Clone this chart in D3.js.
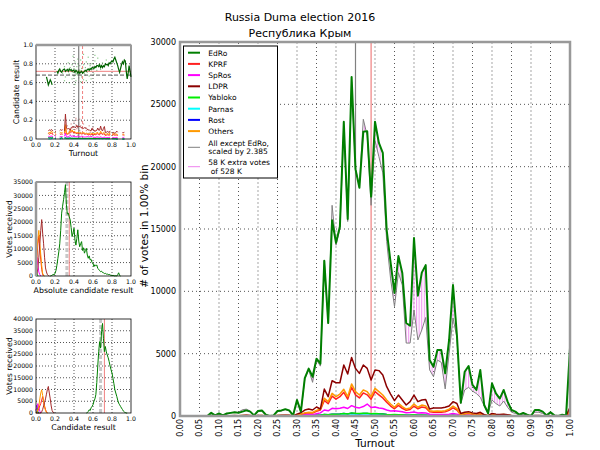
<!DOCTYPE html>
<html>
<head>
<meta charset="utf-8">
<script src="https://cdn.jsdelivr.net/npm/d3@7"></script>
<style>
body { margin: 0; background: #fff; }
text { font-family: "DejaVu Sans", sans-serif; }
</style>
</head>
<body>
<div id="grafico"></div>
<script>
/////////// DATA /////////
// 1% turnout bins, 0.00 .. 1.00
var turnout = d3.range(0, 101).map(function(i) { return i / 100; });

var edro = [
  0,0,0,0,0,0,0,0,250,50,
  200,50,200,250,300,250,350,450,350,50,
  400,450,100,0,50,400,450,550,450,50,
  1280,350,3040,3800,3150,4600,4200,12450,7460,15700,
  13900,15200,23600,15800,27200,19800,18300,22800,22850,17600,
  23600,21900,21100,14900,12300,9870,12830,11470,7460,7240,
  14280,9650,11500,12100,4490,3950,5290,5290,3420,6100,
  10500,6500,1070,3550,4010,2490,2090,3690,880,220,
  2620,1820,1400,2090,1150,480,350,100,240,100,
  0,480,480,350,50,300,50,0,100,50,
  5450];
var allExcept = [
  0,0,0,0,0,0,0,0,200,50,
  150,50,150,250,300,300,500,550,400,50,
  350,400,100,0,50,350,400,500,400,50,
  1200,300,3000,3700,2700,4500,4000,12500,7400,16900,
  13700,15000,23200,15600,26800,19800,18500,23800,22500,16900,
  22100,20800,19500,14000,11000,8770,11500,10500,5850,5850,
  8500,6100,6900,7900,3700,3150,4490,4300,2170,5000,
  7860,6300,1000,2090,2300,2000,1800,1500,800,200,
  1280,1000,800,1200,700,300,200,100,150,50,
  0,300,300,200,50,200,50,0,80,50,
  4500];
var kprf = [
  0,0,0,0,0,0,0,0,10,0,
  10,0,10,20,20,20,30,40,20,0,
  20,30,10,0,10,30,30,40,30,10,
  100,130,220,260,240,380,480,1250,980,1600,
  1350,1550,1900,1350,2300,1700,1450,1850,1700,1350,
  1950,1700,1450,1100,800,580,850,620,460,520,
  800,580,720,660,340,300,320,300,340,450,
  650,480,80,160,200,140,120,160,60,15,
  120,100,80,100,60,25,15,5,15,5,
  0,25,25,15,0,15,0,0,5,5,
  350];
var spros = [
  0,0,0,0,0,0,0,0,5,0,
  5,0,5,10,10,10,15,20,10,0,
  10,15,5,0,5,15,15,20,15,5,
  50,60,100,120,110,180,250,480,420,620,
  580,620,700,600,830,700,650,760,960,680,
  720,640,600,480,400,420,380,340,260,280,
  320,240,260,250,140,120,130,120,120,150,
  200,150,30,60,70,50,40,60,20,5,
  40,30,25,30,20,10,5,0,5,0,
  0,10,10,5,0,5,0,0,0,0,
  150];
var ldpr = [
  0,0,0,0,0,0,0,0,30,0,
  20,0,20,30,40,30,50,60,40,0,
  40,50,10,0,10,50,60,70,60,10,
  150,260,480,560,480,720,560,2160,1550,2830,
  2670,2670,4090,3370,4700,3820,3420,4090,3820,2890,
  3690,3640,3290,2350,1760,1230,1680,1280,880,1150,
  1680,1150,1280,1330,560,640,640,640,700,800,
  1150,1000,200,300,350,250,200,300,100,30,
  200,150,120,150,100,50,30,10,20,10,
  0,40,40,30,0,30,0,0,10,10,
  700];
var yabloko = [
  0,0,0,0,0,0,0,0,0,0,
  0,0,0,5,5,5,5,10,5,0,
  5,5,0,0,0,5,5,10,5,0,
  20,10,30,40,30,60,60,120,100,150,
  150,160,200,160,250,220,200,220,230,180,
  200,180,170,130,110,120,110,100,70,80,
  100,70,80,70,40,40,40,40,40,50,
  60,50,10,20,20,15,10,20,5,0,
  10,10,5,10,5,0,0,0,0,0,
  0,0,0,0,0,0,0,0,0,0,
  30];
var parnas = [
  0,0,0,0,0,0,0,0,0,0,
  0,0,0,0,0,0,0,5,0,0,
  0,0,0,0,0,0,0,5,0,0,
  10,5,15,20,15,25,30,50,40,60,
  60,60,80,60,90,80,70,80,80,60,
  80,70,60,50,40,40,40,35,25,30,
  40,25,30,25,15,15,15,15,15,20,
  25,20,5,10,10,5,5,10,0,0,
  5,5,0,0,0,0,0,0,0,0,
  0,0,0,0,0,0,0,0,0,0,
  10];
var rost = [
  0,0,0,0,0,0,0,0,0,0,
  0,0,0,5,5,5,5,10,5,0,
  5,5,0,0,0,5,5,10,5,0,
  20,15,40,50,40,70,70,130,100,150,
  150,160,200,160,220,190,170,200,200,150,
  190,170,160,120,100,80,100,80,60,60,
  90,60,70,70,35,30,35,30,30,40,
  60,40,10,20,20,15,10,20,5,0,
  15,10,10,10,5,0,0,0,0,0,
  0,0,0,0,0,0,0,0,0,0,
  50];
var others = [
  0,0,0,0,0,0,0,0,20,0,
  20,0,20,20,30,20,40,50,30,0,
  30,40,10,0,10,40,40,50,40,10,
  120,150,250,300,280,450,560,1420,1150,1820,
  1550,1760,2140,1550,2570,1950,1680,2090,1950,1550,
  2220,1950,1680,1280,960,700,1020,750,560,640,
  960,700,880,800,420,380,400,380,420,550,
  800,600,100,200,250,180,150,200,80,20,
  150,120,100,120,80,30,20,10,20,10,
  0,30,30,20,0,20,0,0,10,10,
  400];

var partyNames = ["EdRo","KPRF","SpRos","LDPR","Yabloko","Parnas","Rost","Others"];
var partyColors = ["#007f00","#ff2020","#ff00ff","#8b0000","#00ee00","#00ffff","#0000ff","#ff9900"];
var partySeries = [edro, kprf, spros, ldpr, yabloko, parnas, rost, others];
var scaleNote = ["All except EdRo,", "scaled by 2.385"];
var extraNote = ["58 K extra votes", " of 528 K"];
var titleLines = ["Russia Duma election 2016", "Республика Крым"];
var meanTurnout = 0.45, edroTurnout = 0.49;

// top-left panel: EdRo share per turnout bin (null = gap)
var shareTurnout = d3.range(11, 101).map(function(i) { return i / 100; });
var shareEdro = [
  0.66,0.62,0.575,0.60,0.63,0.61,0.575,null,null,null,null,
  0.72,0.70,0.73,0.745,0.72,0.71,0.73,0.74,0.745,0.72,
  0.73,0.74,0.72,0.745,0.73,0.74,0.72,0.73,0.73,0.71,
  0.73,0.72,0.70,0.72,0.70,0.71,0.72,0.70,0.71,0.72,
  0.73,0.72,0.74,0.745,0.73,0.75,0.74,0.76,0.76,0.75,
  0.77,0.76,0.78,0.78,0.77,0.79,0.76,0.78,0.76,0.78,
  0.77,0.80,0.79,0.795,0.78,0.81,0.80,0.82,0.83,0.82,
  0.85,0.87,0.84,0.81,0.78,0.74,0.71,0.75,0.79,0.82,
  0.80,0.84,0.83,0.72,0.64,0.70,0.78,0.72,0.66];
// precinct cloud (EdRo)
var cloudT = [0.28,0.30,0.31,0.33,0.34,0.35,0.36,0.37,0.38,0.38,0.39,0.40,0.40,0.41,0.42,0.42,0.43,0.43,0.44,0.44,
  0.45,0.45,0.45,0.46,0.46,0.47,0.47,0.48,0.48,0.49,0.50,0.50,0.51,0.52,0.52,0.53,0.54,0.55,0.55,0.56,
  0.57,0.58,0.59,0.60,0.61,0.62,0.63,0.64,0.65,0.66,0.68,0.70,0.72,0.74,0.76,0.35,0.41,0.47,0.53,0.44,
  0.39,0.58,0.50,0.30,0.62,0.43,0.46,0.49,0.51,0.56];
var cloudV = [0.70,0.77,0.66,0.74,0.81,0.69,0.76,0.72,0.64,0.79,0.71,0.75,0.67,0.82,0.70,0.62,0.77,0.73,0.68,0.80,
  0.71,0.74,0.65,0.78,0.69,0.72,0.84,0.66,0.75,0.70,0.79,0.63,0.73,0.76,0.68,0.82,0.71,0.74,0.87,0.67,
  0.78,0.72,0.80,0.75,0.69,0.83,0.77,0.73,0.86,0.79,0.74,0.81,0.77,0.84,0.79,0.60,0.58,0.61,0.62,0.85,
  0.88,0.64,0.90,0.62,0.89,0.69,0.73,0.76,0.70,0.80];
// precinct cloud (other parties)
var lowCloudT = [0.30,0.33,0.35,0.37,0.38,0.40,0.41,0.42,0.43,0.44,0.45,0.46,0.47,0.48,0.49,0.50,0.52,0.54,0.56,0.58,
  0.60,0.62,0.36,0.40,0.44,0.47,0.51,0.55,0.42,0.46,0.39,0.43,0.45,0.48,0.53,0.57];
var lowCloudV = [0.10,0.14,0.08,0.16,0.12,0.18,0.10,0.15,0.20,0.13,0.17,0.09,0.14,0.19,0.11,0.16,0.12,0.10,0.14,0.09,
  0.12,0.08,0.05,0.06,0.04,0.07,0.05,0.06,0.22,0.21,0.13,0.11,0.15,0.12,0.09,0.07];

// middle-left panel: votes vs absolute result
var absGreenX = d3.range(15, 90).map(function(i) { return i / 100; });
var absGreen = [0,100,300,600,400,1000,2000,4000,6500,9000,
  12000,17000,23400,26000,28400,31000,34000,26500,23000,23400,
  22000,20900,18000,14700,16000,17800,13500,11500,14000,17200,
  13000,10900,12000,12800,9500,10500,8500,9500,10300,7800,
  6600,7500,6000,6200,5000,4700,3500,4200,3800,4100,
  2800,2500,2000,1600,1800,1300,1200,900,1000,700,
  750,500,600,400,200,300,100,200,0,100,
  0,500,1200,200,0];
var absLow = {
  ldpr:   [0,500,3000,7000,12000,17000,21000,16000,12000,7000,3000,1500,500,200,0],
  others: [0,9000,14000,17000,12000,8000,4000,1000,300,0],
  kprf:   [0,7000,12000,15000,10000,6000,2500,500,0],
  spros:  [2000,7000,4000,1500,500,0],
  yabloko:[3000,1000,0],
  parnas: [1000,0],
  rost:   [2500,500,0]
};
var absMean = 0.325, absEdro = 0.35;

// bottom-left panel: votes vs candidate result
var relGreenX = d3.range(53, 97).map(function(i) { return i / 100; });
var relGreen = [0,200,600,1400,1000,2200,2800,3500,5000,6000,
  7800,13000,20000,26100,30400,27600,34600,38100,31800,26100,
  28300,26000,24700,23500,21900,20000,18400,17000,14800,12500,
  9900,8500,7100,5500,4200,3500,2800,2100,1500,800,
  400,200,0,0];
var relLow = {
  ldpr:   [0,0,0,0,0,0,500,1500,3000,4500,6000,8000,10000,11300,8500,6000,3000,1000,300,0],
  others: [0,500,1500,3000,6000,8500,9900,7500,5000,2500,1000,300,0],
  kprf:   [0,500,1000,2000,3000,4000,5500,7000,5000,3000,1500,500,0],
  spros:  [1000,2500,4000,2500,800,0],
  yabloko:[1500,2000,200,0],
  parnas: [1000,300,0],
  rost:   [3000,3000,500,0]
};
var relMean = 0.68, relEdro = 0.72;

/////////// SVG /////////
var svg = d3.select("#grafico").append("svg")
  .attr("width", 600)
  .attr("height", 450);

var defs = svg.append("defs");
defs.append("pattern")
  .attr("id", "rayas")
  .attr("patternUnits", "userSpaceOnUse")
  .attr("width", 2.6).attr("height", 10)
  .append("line")
  .attr("x1", 0.6).attr("x2", 0.6).attr("y1", 0).attr("y2", 10)
  .attr("stroke", "violet").attr("stroke-width", 0.9);

/////////// TITLE /////////
svg.selectAll(".titulo").data(titleLines).enter().append("text")
  .attr("class", "titulo")
  .attr("x", 300)
  .attr("y", function(d, i) { return 20.5 + i * 16; })
  .attr("text-anchor", "middle")
  .attr("font-size", "11px")
  .text(function(d) { return d; });

/////////// MAIN CHART /////////
var x = d3.scaleLinear().domain([0, 1]).range([180, 570]);
var y = d3.scaleLinear().domain([0, 30000]).range([416, 42]);

var xTicks = d3.range(0, 21).map(function(i) { return i / 20; });

// grid
svg.append("g").selectAll("line").data(xTicks.slice(1, 20)).enter().append("line")
  .attr("x1", function(d) { return x(d); }).attr("x2", function(d) { return x(d); })
  .attr("y1", y(0)).attr("y2", y(30000))
  .attr("stroke", function(d, i) { return i % 2 === 1 ? "#c8c8c8" : "#555"; })
  .attr("stroke-width", function(d, i) { return i % 2 === 1 ? 1.6 : 1; })
  .attr("stroke-dasharray", function(d, i) { return i % 2 === 1 ? "2,2" : "1,3"; });

svg.append("g").selectAll("line").data([5000, 10000, 15000, 20000, 25000]).enter().append("line")
  .attr("x1", x(0)).attr("x2", x(1))
  .attr("y1", function(d) { return y(d); }).attr("y2", function(d) { return y(d); })
  .attr("stroke", "#555").attr("stroke-dasharray", "1,3");

// y tick labels
svg.append("g").selectAll("text").data(d3.range(0, 30001, 5000)).enter().append("text")
  .attr("x", 176)
  .attr("y", function(d) { return y(d) + 3; })
  .attr("text-anchor", "end")
  .attr("font-size", "8px")
  .text(function(d) { return d; });

// x tick labels
svg.append("g").selectAll("text").data(xTicks).enter().append("text")
  .attr("transform", function(d) { return "translate(" + x(d) + ",419) rotate(-90)"; })
  .attr("dy", "0.35em")
  .attr("text-anchor", "end")
  .attr("font-size", "8px")
  .text(d3.format(".2f"));

// axis titles
svg.append("text")
  .attr("x", 375).attr("y", 447)
  .attr("text-anchor", "middle")
  .attr("font-size", "10.5px")
  .text("Turnout");

svg.append("text")
  .attr("transform", "translate(144," + 226 + ") rotate(-90)")
  .attr("dy", "0.35em")
  .attr("text-anchor", "middle")
  .attr("font-size", "10.5px")
  .text("# of votes in 1.00% bin");

// extra votes hatch between scaled rest and EdRo
svg.append("path")
  .datum(turnout)
  .attr("fill", "url(#rayas)")
  .attr("d", d3.area()
    .x(function(d) { return x(d); })
    .y0(function(d, i) { return y(allExcept[i]); })
    .y1(function(d, i) { return y(edro[i]); }));

// reference verticals
svg.append("line")
  .attr("x1", x(meanTurnout)).attr("x2", x(meanTurnout))
  .attr("y1", y(0)).attr("y2", y(30000))
  .attr("stroke", "#808080").attr("stroke-width", 1.2);
svg.append("line")
  .attr("x1", x(edroTurnout)).attr("x2", x(edroTurnout))
  .attr("y1", y(0)).attr("y2", y(30000))
  .attr("stroke", "#f08080").attr("stroke-width", 1.2);

var linea = function(serie) {
  return d3.line()
    .x(function(d) { return x(d); })
    .y(function(d, i) { return y(serie[i]); });
};

svg.append("path")
  .datum(turnout)
  .attr("fill", "none")
  .attr("stroke", "#808080")
  .attr("stroke-width", 1)
  .attr("d", linea(allExcept));

// small parties first, EdRo on top
[6, 5, 4, 2, 1, 7, 3, 0].forEach(function(k) {
  svg.append("path")
    .datum(turnout)
    .attr("fill", "none")
    .attr("stroke", partyColors[k])
    .attr("stroke-width", k === 0 ? 2 : 1.5)
    .attr("stroke-linejoin", "round")
    .attr("d", linea(partySeries[k]));
});

// frame
svg.append("rect")
  .attr("x", x(0)).attr("y", y(30000))
  .attr("width", x(1) - x(0)).attr("height", y(0) - y(30000))
  .attr("fill", "none").attr("stroke", "#999").attr("stroke-width", 2.5);

/////////// LEGEND /////////
var leg = svg.append("g").attr("transform", "translate(183.5,46)");
leg.append("rect")
  .attr("width", 94).attr("height", 132)
  .attr("fill", "#fff").attr("stroke", "#000").attr("stroke-width", 1);

partyNames.forEach(function(n, i) {
  var cy = 6.7 + i * 11.2;
  leg.append("line")
    .attr("x1", 4.5).attr("x2", 16.5).attr("y1", cy).attr("y2", cy)
    .attr("stroke", partyColors[i]).attr("stroke-width", 2);
  leg.append("text")
    .attr("x", 24.8).attr("y", cy + 2.8)
    .attr("font-size", "7.5px")
    .text(n);
});
[[scaleNote, "#808080", 101.3], [extraNote, "violet", 120.7]].forEach(function(e) {
  leg.append("line")
    .attr("x1", 4.5).attr("x2", 16.5).attr("y1", e[2]).attr("y2", e[2])
    .attr("stroke", e[1]).attr("stroke-width", 1);
  e[0].forEach(function(t, j) {
    leg.append("text")
      .attr("x", 24.8).attr("y", e[2] - 1.6 + j * 8.4)
      .attr("font-size", "7.5px")
      .attr("xml:space", "preserve")
      .text(t);
  });
});

/////////// SMALL PANELS /////////
function panel(top, yMax, yStep, xLabel, yLabel, yFmt, labelX) {
  var px = d3.scaleLinear().domain([0, 1]).range([36, 131]);
  var py = d3.scaleLinear().domain([0, yMax]).range([top + 94, top]);
  var g = svg.append("g");
  var xs = [0, 0.2, 0.4, 0.6, 0.8, 1.0];
  var ys = d3.range(0, yMax + yStep / 2, yStep);

  g.selectAll(".gx").data(xs.slice(1, 5)).enter().append("line")
    .attr("x1", function(d) { return px(d); }).attr("x2", function(d) { return px(d); })
    .attr("y1", py(0)).attr("y2", py(yMax))
    .attr("stroke", "#555").attr("stroke-dasharray", "1,2");
  g.selectAll(".gy").data(ys.slice(1, ys.length - 1)).enter().append("line")
    .attr("x1", px(0)).attr("x2", px(1))
    .attr("y1", function(d) { return py(d); }).attr("y2", function(d) { return py(d); })
    .attr("stroke", "#555").attr("stroke-dasharray", "1,2");

  g.selectAll(".tx").data(xs).enter().append("text")
    .attr("x", function(d) { return px(d); })
    .attr("y", py(0) + 8)
    .attr("text-anchor", "middle")
    .attr("font-size", "6.2px")
    .text(d3.format(".1f"));
  g.selectAll(".ty").data(ys).enter().append("text")
    .attr("x", 33)
    .attr("y", function(d) { return py(d) + 2.2; })
    .attr("text-anchor", "end")
    .attr("font-size", "6.2px")
    .text(yFmt);

  g.append("text")
    .attr("x", 83.5).attr("y", py(0) + 17)
    .attr("text-anchor", "middle")
    .attr("font-size", "7.8px")
    .text(xLabel);
  g.append("text")
    .attr("transform", "translate(" + labelX + "," + (top + 47) + ") rotate(-90)")
    .attr("dy", "0.35em")
    .attr("text-anchor", "middle")
    .attr("font-size", "7.8px")
    .text(yLabel);

  return { g: g, x: px, y: py };
}

function frame(p, yMax) {
  p.g.append("rect")
    .attr("x", p.x(0)).attr("y", p.y(yMax))
    .attr("width", p.x(1) - p.x(0)).attr("height", p.y(0) - p.y(yMax))
    .attr("fill", "none").attr("stroke", "#000").attr("stroke-width", 0.8);
}

function vline(p, v, yMax, color, width, dash) {
  p.g.append("line")
    .attr("x1", p.x(v)).attr("x2", p.x(v))
    .attr("y1", p.y(0)).attr("y2", p.y(yMax))
    .attr("stroke", color).attr("stroke-width", width)
    .attr("stroke-dasharray", dash);
}

function lowLines(p, data) {
  var keys = ["rost", "parnas", "yabloko", "spros", "kprf", "others", "ldpr"];
  var cols = { ldpr: "#a52a2a", others: "#ff9900", kprf: "#ff2020", spros: "#ff00ff",
               yabloko: "#00ee00", parnas: "#00ffff", rost: "#0000ff" };
  keys.forEach(function(k) {
    p.g.append("path")
      .datum(data[k])
      .attr("fill", "none")
      .attr("stroke", cols[k])
      .attr("stroke-width", 1)
      .attr("d", d3.line()
        .x(function(d, i) { return p.x(i / 100); })
        .y(function(d) { return p.y(d); }));
  });
}

// --- panel 1: result vs turnout
var p1 = panel(45, 1, 0.2, "Turnout", "Candidate result", d3.format(".1f"), 16);

p1.g.selectAll(".nube").data(cloudT).enter().append("rect")
  .attr("x", function(d) { return p1.x(d) - 0.6; })
  .attr("y", function(d, i) { return p1.y(cloudV[i]) - 0.6; })
  .attr("width", 1.2).attr("height", 1.2)
  .attr("fill", "#2e9a2e").attr("opacity", 0.55);
p1.g.selectAll(".nubeBaja").data(lowCloudT).enter().append("rect")
  .attr("x", function(d) { return p1.x(d) - 0.6; })
  .attr("y", function(d, i) { return p1.y(lowCloudV[i]) - 0.6; })
  .attr("width", 1.2).attr("height", 1.2)
  .attr("fill", "#b03030").attr("opacity", 0.5);

vline(p1, meanTurnout, 1, "#666", 1, null);
vline(p1, edroTurnout, 1, "#f08080", 1, "3,2");
p1.g.append("line")
  .attr("x1", p1.x(0)).attr("x2", p1.x(1))
  .attr("y1", p1.y(0.72)).attr("y2", p1.y(0.72))
  .attr("stroke", "#f08080").attr("stroke-width", 1);
p1.g.append("line")
  .attr("x1", p1.x(0)).attr("x2", p1.x(1))
  .attr("y1", p1.y(0.68)).attr("y2", p1.y(0.68))
  .attr("stroke", "#555").attr("stroke-width", 1).attr("stroke-dasharray", "4,2");

// other parties' share per bin
[6, 5, 4, 2, 1, 7, 3].forEach(function(k) {
  p1.g.append("path")
    .datum(turnout)
    .attr("fill", "none")
    .attr("stroke", k === 3 ? "#a52a2a" : partyColors[k])
    .attr("stroke-width", 1)
    .attr("d", d3.line()
      .defined(function(d, i) {
        var tot = partySeries.reduce(function(s, a) { return s + a[i]; }, 0);
        return tot >= 300;
      })
      .x(function(d) { return p1.x(d); })
      .y(function(d, i) {
        var tot = partySeries.reduce(function(s, a) { return s + a[i]; }, 0);
        return p1.y(partySeries[k][i] / tot);
      }));
});

p1.g.append("path")
  .datum(shareTurnout)
  .attr("fill", "none")
  .attr("stroke", "#006400")
  .attr("stroke-width", 1.2)
  .attr("d", d3.line()
    .defined(function(d, i) { return shareEdro[i] !== null; })
    .x(function(d) { return p1.x(d); })
    .y(function(d, i) { return p1.y(shareEdro[i]); }));
frame(p1, 1);
p1.g.append("line")
  .attr("x1", p1.x(0)).attr("x2", p1.x(1))
  .attr("y1", p1.y(1)).attr("y2", p1.y(1))
  .attr("stroke", "#999").attr("stroke-width", 2.5);

// --- panel 2: votes vs absolute result
var p2 = panel(182, 35000, 5000, "Absolute candidate result", "Votes received", d3.format("d"), 9);
vline(p2, absMean, 35000, "#c8c8c8", 3, "4,2");
vline(p2, absEdro, 35000, "#f08080", 1, null);
lowLines(p2, absLow);
p2.g.append("path")
  .datum(absGreenX)
  .attr("fill", "none")
  .attr("stroke", "#007f00")
  .attr("stroke-width", 1)
  .attr("d", d3.line()
    .x(function(d) { return p2.x(d); })
    .y(function(d, i) { return p2.y(absGreen[i]); }));
frame(p2, 35000);
p2.g.append("line")
  .attr("x1", p2.x(0)).attr("x2", p2.x(0))
  .attr("y1", p2.y(0)).attr("y2", p2.y(35000))
  .attr("stroke", "#999").attr("stroke-width", 2.5);

// --- panel 3: votes vs candidate result
var p3 = panel(319, 40000, 5000, "Candidate result", "Votes received", d3.format("d"), 9);
vline(p3, relMean, 40000, "#c8c8c8", 3, "4,2");
vline(p3, relEdro, 40000, "#f08080", 1, null);
lowLines(p3, relLow);
p3.g.append("path")
  .datum(relGreenX)
  .attr("fill", "none")
  .attr("stroke", "#007f00")
  .attr("stroke-width", 1)
  .attr("d", d3.line()
    .x(function(d) { return p3.x(d); })
    .y(function(d, i) { return p3.y(relGreen[i]); }));
frame(p3, 40000);
</script>
</body>
</html>
